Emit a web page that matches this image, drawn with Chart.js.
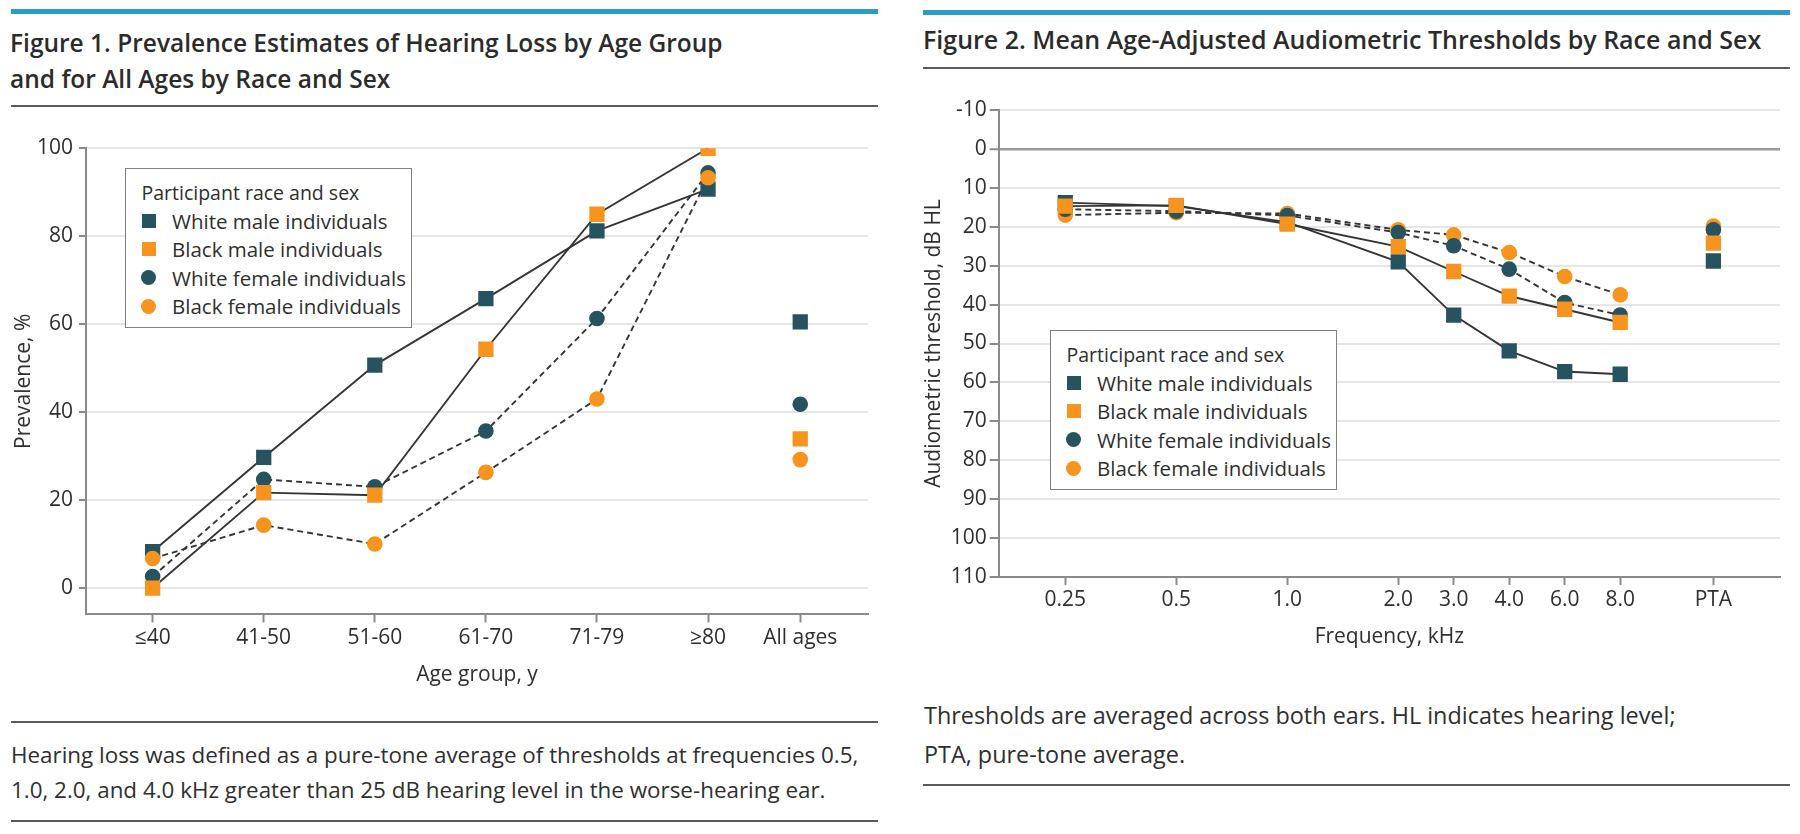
<!DOCTYPE html>
<html><head><meta charset="utf-8">
<script src="https://cdn.jsdelivr.net/npm/chart.js@4.4.1/dist/chart.umd.min.js"></script>
<style>
body{margin:0;width:1800px;height:834px;background:#fff;position:relative;overflow:hidden;font-family:"Open Sans",sans-serif;color:#333;}
.abs{position:absolute;}
.bar{background:#2b9bc8;height:5px;}
.rule{background:#5a5a5a;height:2px;}
.t{white-space:nowrap;height:30px;line-height:30px;}
.title{font-weight:600;font-size:24.5px;color:#2b2b2b;}
.cap{font-size:22.4px;color:#2f2f2f;}
.legend{border:1.5px solid #808080;background:#fff;box-sizing:border-box;width:287px;height:160px;}
.legend .row{position:absolute;left:0;height:28px;line-height:28px;font-size:20.5px;white-space:nowrap;color:#2f2f2f;}
.legend .row.head{font-size:19.5px;}
.legend .mk{position:absolute;}
canvas{position:absolute;}
</style></head>
<body>
<div class="abs bar" style="left:11px;top:9px;width:867px;"></div>
<div class="abs bar" style="left:923px;top:10px;width:867px;"></div>
<div class="abs t title" style="left:10px;top:28px;">Figure 1. Prevalence Estimates of Hearing Loss by Age Group</div>
<div class="abs t title" style="left:10px;top:64px;">and for All Ages by Race and Sex</div>
<div class="abs rule" style="left:11px;top:105px;width:867px;"></div>
<div class="abs t title" style="left:923px;top:24px;font-size:25px;">Figure 2. Mean Age-Adjusted Audiometric Thresholds by Race and Sex</div>
<div class="abs rule" style="left:923px;top:67px;width:867px;"></div>

<canvas id="c1" width="880" height="580" style="left:0px;top:120px;"></canvas>
<canvas id="c2" width="900" height="580" style="left:900px;top:90px;"></canvas>

<div id="leg1" class="abs legend" style="left:125px;top:168px;"></div>
<div id="leg2" class="abs legend" style="left:1050px;top:330px;"></div>

<div class="abs rule" style="left:11px;top:721px;width:867px;"></div>
<div class="abs t cap" style="left:11px;top:740px;">Hearing loss was defined as a pure-tone average of thresholds at frequencies 0.5,</div>
<div class="abs t cap" style="left:11px;top:775px;">1.0, 2.0, and 4.0 kHz greater than 25 dB hearing level in the worse-hearing ear.</div>
<div class="abs rule" style="left:11px;top:820px;width:867px;"></div>
<div class="abs t cap" style="left:924px;top:700px;font-size:23.4px;">Thresholds are averaged across both ears. HL indicates hearing level;</div>
<div class="abs t cap" style="left:924px;top:739px;font-size:23.4px;">PTA, pure-tone average.</div>
<div class="abs rule" style="left:923px;top:784px;width:867px;"></div>

<script>
// ---------- data ----------
const seriesNames = ['White male individuals','Black male individuals','White female individuals','Black female individuals'];
const legendTitle = 'Participant race and sex';

// Figure 1
const ageGroups = ['≤40','41-50','51-60','61-70','71-79','≥80','All ages'];
const agePos    = [0, 1, 2, 3, 4, 5, 5.83];
const prevWhiteMale   = [8.3, 29.7, 50.7, 65.8, 81.2, 90.7, 60.5];
const prevBlackMale   = [0, 21.7, 21.1, 54.3, 85.0, 100, 33.9];
const prevWhiteFemale = [2.6, 24.7, 23.0, 35.7, 61.3, 94.4, 41.8];
const prevBlackFemale = [6.7, 14.3, 10.0, 26.3, 43.0, 93.3, 29.2];
const prevTicks = [0, 20, 40, 60, 80, 100];

// Figure 2
const freqLabels = ['0.25','0.5','1.0','2.0','3.0','4.0','6.0','8.0','PTA'];
const freqPos    = [0, 1, 2, 3, 3.5, 4, 4.5, 5, 5.84];
const thrWhiteMale   = [13.8, 14.7, 18.8, 29.0, 42.7, 51.9, 57.2, 57.9, 28.8];
const thrBlackMale   = [14.7, 14.5, 19.3, 25.1, 31.5, 37.8, 41.2, 44.6, 24.2];
const thrWhiteFemale = [15.5, 16.0, 17.1, 21.5, 24.9, 30.9, 39.5, 42.7, 20.8];
const thrBlackFemale = [17.0, 16.4, 16.6, 20.8, 22.1, 26.6, 32.8, 37.5, 19.8];
const thrTicks = [-10, 0, 10, 20, 30, 40, 50, 60, 70, 80, 90, 100, 110];

// ---------- styles ----------
const TEAL = '#26535f', ORANGE = '#f7941e', LINE = '#353535', TXT = '#2f2f2f';
const styles = [
  {color: TEAL,   shape: 'rect',   dash: []},
  {color: ORANGE, shape: 'rect',   dash: []},
  {color: TEAL,   shape: 'circle', dash: [6, 4]},
  {color: ORANGE, shape: 'circle', dash: [6, 4]}
];
Chart.defaults.font.family = '"Open Sans", sans-serif';
Chart.defaults.color = TXT;

function buildDatasets(pos, arrays, zTop) {
  const ds = [];
  arrays.forEach((arr, k) => {
    const st = styles[k];
    const n = arr.length - 1; // last point (summary) is not connected
    ds.push({
      data: pos.slice(0, n).map((x, i) => ({x, y: arr[i]})),
      borderColor: LINE, borderWidth: 1.9, borderDash: st.dash,
      pointRadius: 0, fill: false, tension: 0, order: 20 + k
    });
    ds.push({
      data: pos.map((x, i) => ({x, y: arr[i]})),
      showLine: false, pointStyle: st.shape,
      pointRadius: st.shape === 'rect' ? 10.8 : 7.8,
      pointBackgroundColor: st.color, pointBorderWidth: 0,
      order: zTop[k]
    });
  });
  return ds;
}

function axisFont(s){ return {size: s, family: '"Open Sans", sans-serif'}; }

// Figure 1
new Chart(document.getElementById('c1'), {
  type: 'line',
  data: {datasets: buildDatasets(agePos, [prevWhiteMale, prevBlackMale, prevWhiteFemale, prevBlackFemale], [4, 1, 3, 2])},
  options: {
    responsive: false, animation: false, events: [],
    layout: {padding: {top: 28.3, right: 12, left: 0, bottom: 0}},
    plugins: {legend: {display: false}, tooltip: {enabled: false}},
    scales: {
      x: {
        type: 'linear', min: -0.6, max: 6.44,
        afterBuildTicks: s => { s.ticks = agePos.map(v => ({value: v})); },
        afterFit: s => { s.height = 85.6; },
        ticks: {callback: (v, i) => ageGroups[i], font: axisFont(21), color: TXT, padding: 3, autoSkip: false, maxRotation: 0},
        grid: {drawOnChartArea: false, drawTicks: true, tickLength: 8, tickColor: '#8a8a8a', tickWidth: 2},
        border: {color: '#8a8a8a', width: 2},
        title: {display: true, text: 'Age group, y', font: axisFont(21), color: TXT, padding: {top: 0, bottom: 12.4}}
      },
      y: {
        type: 'linear', min: -6, max: 100,
        afterBuildTicks: s => { s.ticks = prevTicks.map(v => ({value: v})); },
        afterFit: s => { s.width = 86; },
        ticks: {font: axisFont(21), color: TXT, padding: 6},
        grid: {color: '#e6e6e6', lineWidth: 2, tickLength: 7, tickColor: '#8a8a8a', tickWidth: 2},
        border: {color: '#8a8a8a', width: 2},
        title: {display: true, text: 'Prevalence, %', font: axisFont(21), color: TXT, padding: {top: 11, bottom: 0}}
      }
    }
  }
});

// Figure 2
new Chart(document.getElementById('c2'), {
  type: 'line',
  data: {datasets: buildDatasets(freqPos, [thrWhiteMale, thrBlackMale, thrWhiteFemale, thrBlackFemale], [4, 1, 2, 3])},
  options: {
    responsive: false, animation: false, events: [],
    layout: {padding: {top: 20, right: 20, left: 0, bottom: 0}},
    plugins: {legend: {display: false}, tooltip: {enabled: false}},
    scales: {
      x: {
        type: 'linear', min: -0.6, max: 6.44,
        afterBuildTicks: s => { s.ticks = freqPos.map(v => ({value: v})); },
        afterFit: s => { s.height = 93; },
        ticks: {callback: (v, i) => freqLabels[i], font: axisFont(21), color: TXT, padding: 2, autoSkip: false, maxRotation: 0},
        grid: {drawOnChartArea: false, drawTicks: true, tickLength: 8, tickColor: '#8a8a8a', tickWidth: 2},
        border: {color: '#8a8a8a', width: 2},
        title: {display: true, text: 'Frequency, kHz', font: axisFont(21), color: TXT, padding: {top: 0, bottom: 20.4}}
      },
      y: {
        type: 'linear', min: -10, max: 110, reverse: true,
        afterBuildTicks: s => { s.ticks = thrTicks.map(v => ({value: v})); },
        afterFit: s => { s.width = 98.7; },
        ticks: {font: axisFont(21), color: TXT, padding: 3},
        grid: {
          color: c => (c.tick && c.tick.value === 0) ? '#9a9a9a' : '#e6e6e6',
          lineWidth: c => (c.tick && c.tick.value === 0) ? 2.5 : 2,
          tickLength: 9, tickColor: '#8a8a8a', tickWidth: 2
        },
        border: {color: '#8a8a8a', width: 2},
        title: {display: true, text: 'Audiometric threshold, dB HL', font: axisFont(21), color: TXT, padding: {top: 21.4, bottom: 0}}
      }
    }
  }
});

// Legends (HTML, built from the series arrays)
function buildLegend(id) {
  const box = document.getElementById(id);
  const rows = [legendTitle].concat(seriesNames);
  const centers = [25, 53, 81.5, 110, 138.5];
  rows.forEach((txt, r) => {
    const d = document.createElement('div');
    d.className = r === 0 ? 'row head' : 'row';
    d.style.top = (centers[r] - 14 - 1.5) + 'px';
    if (r === 0) {
      d.style.left = '15.5px';
      d.textContent = txt;
    } else {
      const st = styles[r - 1];
      d.style.left = '46px';
      d.textContent = txt;
      const m = document.createElement('div');
      m.className = 'mk';
      const sz = st.shape === 'rect' ? 14 : 15;
      m.style.width = sz + 'px'; m.style.height = sz + 'px';
      m.style.background = st.color;
      m.style.borderRadius = st.shape === 'rect' ? '0' : '50%';
      m.style.left = (22.5 - sz / 2) + 'px';
      m.style.top = (centers[r] - sz / 2 - 1.5) + 'px';
      box.appendChild(m);
    }
    box.appendChild(d);
  });
}
buildLegend('leg1');
buildLegend('leg2');
</script>
</body></html>
